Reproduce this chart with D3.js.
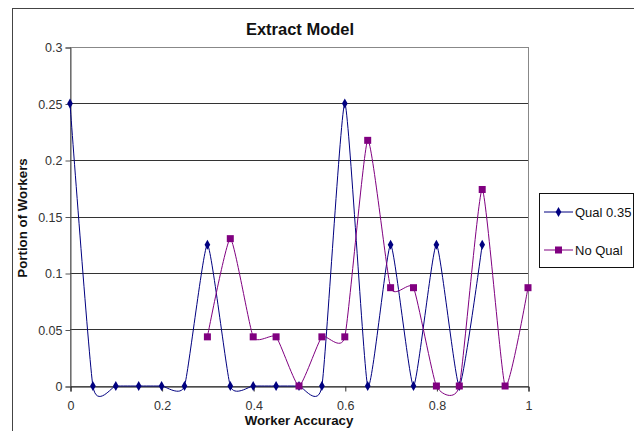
<!DOCTYPE html>
<html>
<head>
<meta charset="utf-8">
<script src="https://cdn.jsdelivr.net/npm/d3@7"></script>
<style>
  html, body { margin: 0; padding: 0; background: #fff; }
  svg { display: block; font-family: "Liberation Sans", Arial, sans-serif; }
</style>
</head>
<body>
<svg id="chart" width="634" height="431"></svg>
<script>
const title = "Extract Model";
const xTitle = "Worker Accuracy";
const yTitle = "Portion of Workers";
const qualX = [0, 0.05, 0.1, 0.15, 0.2, 0.25, 0.3, 0.35, 0.4, 0.45, 0.5, 0.55, 0.6, 0.65, 0.7, 0.75, 0.8, 0.85, 0.9];
const qualY = [0.25, 0, 0, 0, 0, 0, 0.125, 0, 0, 0, 0, 0, 0.25, 0, 0.125, 0, 0.125, 0, 0.125];
const noQualX = [0.3, 0.35, 0.4, 0.45, 0.5, 0.55, 0.6, 0.65, 0.7, 0.75, 0.8, 0.85, 0.9, 0.95, 1];
const noQualY = [0.0435, 0.1304, 0.0435, 0.0435, 0, 0.0435, 0.0435, 0.2174, 0.087, 0.087, 0, 0, 0.1739, 0, 0.087];
const seriesNames = ["Qual 0.35", "No Qual"];
const seriesColors = ["#000080", "#800080"];
const xTicks = [0, 0.2, 0.4, 0.6, 0.8, 1];
const yTicks = [0, 0.05, 0.1, 0.15, 0.2, 0.25, 0.3];

const svg = d3.select("#chart");
const plot = { left: 70, right: 528, top: 47, bottom: 386 };

// outer chart border
svg.append("rect").attr("x", 12.5).attr("y", 8.5).attr("width", 640).attr("height", 440)
  .attr("fill", "#fff").attr("stroke", "#444").attr("stroke-width", 1);

const x = d3.scaleLinear().domain([0, 1]).range([plot.left, plot.right]);
const y = d3.scaleLinear().domain([0, 0.3]).range([plot.bottom, plot.top]);

// plot area border
svg.append("rect").attr("x", plot.left + 0.5).attr("y", plot.top + 0.5)
  .attr("width", plot.right - plot.left).attr("height", plot.bottom - plot.top)
  .attr("fill", "none").attr("stroke", "#888");

// gridlines
svg.append("g").selectAll("line").data(yTicks.slice(1, -1)).join("line")
  .attr("x1", plot.left).attr("x2", plot.right)
  .attr("y1", d => Math.round(y(d)) + 0.5).attr("y2", d => Math.round(y(d)) + 0.5)
  .attr("stroke", "#333").attr("stroke-width", 1);

// y axis
const yAxis = d3.axisLeft(y).tickValues(yTicks).tickSize(5).tickPadding(3).tickFormat(d => d3.format("")(d));
const gy = svg.append("g").attr("transform", `translate(${plot.left + 0.5},0.5)`).call(yAxis);
gy.select(".domain").attr("stroke", "#555");
gy.selectAll(".tick line").attr("stroke", "#555");
gy.selectAll("text").attr("font-size", 12.5).attr("fill", "#333").attr("font-family", "Liberation Sans, Arial, sans-serif");

// x axis
const xAxis = d3.axisBottom(x).tickValues(xTicks).tickSize(5).tickPadding(10).tickFormat(d => d3.format("")(d));
const gx = svg.append("g").attr("transform", `translate(0.5,${plot.bottom + 0.5})`).call(xAxis);
gx.select(".domain").attr("stroke", "#111");
gx.selectAll(".tick line").attr("stroke", "#333");
gx.selectAll("text").attr("font-size", 12.5).attr("fill", "#333").attr("font-family", "Liberation Sans, Arial, sans-serif");

// lines
const line = d3.line().x(d => x(d[0])).y(d => y(d[1])).curve(d3.curveCardinal.tension(0.5));
const qual = qualX.map((v, i) => [v, qualY[i]]);
const noQual = noQualX.map((v, i) => [v, noQualY[i]]);

svg.append("path").datum(qual).attr("d", line).attr("fill", "none")
  .attr("stroke", seriesColors[0]).attr("stroke-width", 1);
svg.append("path").datum(noQual).attr("d", line).attr("fill", "none")
  .attr("stroke", seriesColors[1]).attr("stroke-width", 1);

svg.append("g").selectAll("path").data(qual).join("path")
  .attr("transform", d => `translate(${x(d[0])},${y(d[1])})`)
  .attr("d", d3.symbol().type(d3.symbolDiamond).size(28)).attr("fill", seriesColors[0]);
svg.append("g").selectAll("rect").data(noQual).join("rect")
  .attr("x", d => x(d[0]) - 3.5).attr("y", d => y(d[1]) - 3.5)
  .attr("width", 7).attr("height", 7).attr("fill", seriesColors[1]);

// titles
svg.append("text").attr("x", 300).attr("y", 35).attr("text-anchor", "middle")
  .attr("font-size", 16.5).attr("font-weight", "bold").attr("fill", "#111").text(title);
svg.append("text").attr("x", 299).attr("y", 425).attr("text-anchor", "middle")
  .attr("font-size", 13.3).attr("font-weight", "bold").attr("fill", "#111").text(xTitle);
svg.append("text").attr("transform", "translate(27,218) rotate(-90)").attr("text-anchor", "middle")
  .attr("font-size", 13.3).attr("font-weight", "bold").attr("fill", "#111").text(yTitle);

// legend
const lg = svg.append("g");
lg.append("rect").attr("x", 539.5).attr("y", 193.5).attr("width", 94).attr("height", 74)
  .attr("fill", "#fff").attr("stroke", "#111");
seriesNames.forEach((name, i) => {
  const cy = 212 + i * 38;
  lg.append("line").attr("x1", 544).attr("x2", 573).attr("y1", cy).attr("y2", cy)
    .attr("stroke", seriesColors[i]);
  if (i === 0) {
    lg.append("path").attr("transform", `translate(558.5,${cy})`)
      .attr("d", d3.symbol().type(d3.symbolDiamond).size(28)).attr("fill", seriesColors[i]);
  } else {
    lg.append("rect").attr("x", 555).attr("y", cy - 3.5).attr("width", 7).attr("height", 7)
      .attr("fill", seriesColors[i]);
  }
  lg.append("text").attr("x", 575).attr("y", cy + 4.5).attr("font-size", 13)
    .attr("fill", "#111").text(name);
});
</script>
</body>
</html>
